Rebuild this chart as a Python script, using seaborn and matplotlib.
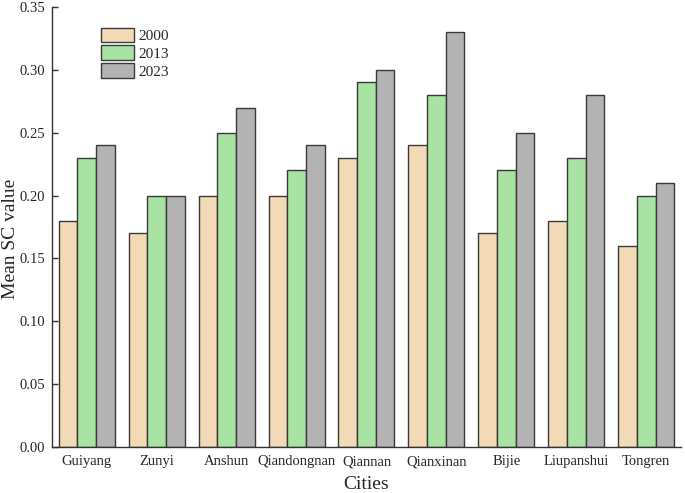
import numpy as np
import pandas as pd
import matplotlib
matplotlib.use('Agg')
import matplotlib.pyplot as plt
import seaborn as sns

# data
cities = ['Guiyang', 'Zunyi', 'Anshun', 'Qiandongnan', 'Qiannan',
          'Qianxinan', 'Bijie', 'Liupanshui', 'Tongren']
sc_2000 = [0.18, 0.17, 0.20, 0.20, 0.23, 0.24, 0.17, 0.18, 0.16]
sc_2013 = [0.23, 0.20, 0.25, 0.22, 0.29, 0.28, 0.22, 0.23, 0.20]
sc_2023 = [0.24, 0.20, 0.27, 0.24, 0.30, 0.33, 0.25, 0.28, 0.21]
years = ['2000', '2013', '2023']

df = pd.DataFrame({'Cities': cities, '2000': sc_2000, '2013': sc_2013, '2023': sc_2023})
df = df.melt(id_vars='Cities', var_name='Year', value_name='SC')

sns.set_style('ticks')
plt.rcParams['font.family'] = ['Liberation Serif', 'DejaVu Serif']

fig = plt.figure(figsize=(6.85, 4.93), dpi=100)
ax = fig.add_axes([0.0755, 0.093, 0.919, 0.893])

palette = {'2000': '#F2DAB6', '2013': '#A9E3A3', '2023': '#B3B3B3'}
sns.barplot(data=df, x='Cities', y='SC', hue='Year', hue_order=years,
            palette=palette, width=0.8, edgecolor='#3a3a3a', linewidth=1.0,
            saturation=1, ax=ax)

ax.set_xlim(-0.5, len(cities) - 0.5)
ax.set_ylim(0, 0.35)
yt = np.arange(0, 0.351, 0.05)
ax.set_yticks(yt)
ax.set_yticklabels([f'{v:.2f}' for v in yt])
ax.tick_params(axis='y', labelsize=10.5, direction='in', length=4, width=1,
               color='#333333', pad=5)
ax.tick_params(axis='x', labelsize=10.5, length=0, pad=6)
ax.set_xlabel('Cities', fontsize=14)
ax.set_ylabel('Mean SC value', fontsize=14)
ax.yaxis.set_label_coords(-0.052, 0.474)
ax.xaxis.set_label_coords(0.5, -0.066)
for side in ['top', 'right']:
    ax.spines[side].set_visible(False)
for side in ['left', 'bottom']:
    ax.spines[side].set_color('#333333')
    ax.spines[side].set_linewidth(1.0)

leg = ax.legend(title=None, frameon=False, fontsize=11, loc='upper left',
                bbox_to_anchor=(0.078, 0.953), borderaxespad=0, borderpad=0,
                handlelength=2.15, handleheight=1.1,
                labelspacing=0.15, handletextpad=0.3)
for h in leg.legend_handles:
    h.set_edgecolor('#3a3a3a')

fig.savefig('out.png', dpi=100)
